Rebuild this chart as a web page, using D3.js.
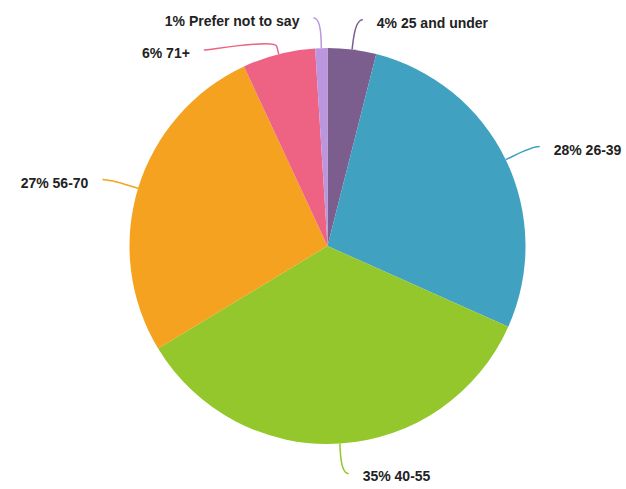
<!DOCTYPE html>
<html>
<head>
<meta charset="utf-8">
<script src="https://cdn.jsdelivr.net/npm/d3@7"></script>
<style>
  html, body { margin: 0; padding: 0; background: #fff; }
  svg { display: block; }
  .lbl { font-family: "Liberation Sans", Arial, Helvetica, sans-serif; font-weight: bold; font-size: 14px; fill: #222; }
</style>
</head>
<body>
<svg id="chart" width="626" height="489"></svg>
<script>
// Age groups of respondents, clockwise from 12 o'clock
const categories = ["25 and under", "26-39", "40-55", "56-70", "71+", "Prefer not to say"];
const percents = [4, 28, 35, 27, 6, 1];
const colors = ["#7b5e8e", "#41a1c1", "#93c72b", "#f4a21f", "#ee6283", "#bb95de"];

const W = 626, H = 489;
const cx = 327.5, cy = 246, R = 198;
const labelDist = 30;   // how far labels sit beyond the rim
const connPad = 7;      // connector overshoot past the label circle
const textGap = 14;     // gap between connector end and text

const svg = d3.select("#chart");
const g = svg.append("g").attr("transform", `translate(${cx},${cy})`);

const data = categories.map((c, i) => ({ cat: c, pct: percents[i], color: colors[i] }));
const pie = d3.pie().value(d => d.pct).sort(null);
const arcs = pie(data);
const arc = d3.arc().innerRadius(0).outerRadius(R);

g.selectAll("path.slice")
  .data(arcs)
  .join("path")
  .attr("class", "slice")
  .attr("d", arc)
  .attr("fill", d => d.data.color)
  .attr("stroke", "none");

// Label layout: natural position on a circle outside the pie, then spread
// overlapping labels apart on each side.
const Rl = R + labelDist;
const items = arcs.map(a => {
  const mid = (a.startAngle + a.endAngle) / 2;
  return {
    a, mid,
    right: mid < Math.PI,
    nx: Rl * Math.sin(mid),
    ny: -Rl * Math.cos(mid),
    tx: R * Math.sin(mid),
    ty: -R * Math.cos(mid)
  };
});

const minGap = 32;
[true, false].forEach(side => {
  const list = items.filter(d => d.right === side).sort((p, q) => p.ny - q.ny);
  let prev = -Infinity;
  list.forEach(d => {
    d.y = Math.max(d.ny, prev + minGap);
    prev = d.y;
  });
});

items.forEach(d => {
  const dy = d.y;
  const onCircle = Math.sqrt(Math.max(0, Rl * Rl - dy * dy));
  const off = Math.max(onCircle, Math.abs(d.nx)) + connPad;
  d.x = d.right ? off : -off;
  // break point just outside the rim, used to shape a soft connector
  const br = R + 8;
  d.bx = br * Math.sin(d.mid);
  d.by = -br * Math.cos(d.mid);
});

g.selectAll("path.conn")
  .data(items)
  .join("path")
  .attr("class", "conn")
  .attr("fill", "none")
  .attr("stroke", d => d.a.data.color)
  .attr("stroke-width", 1.5)
  .attr("d", d => {
    const c1x = d.x + (d.right ? -6 : 6);
    const c2x = 2 * d.bx - d.tx, c2y = 2 * d.by - d.ty;
    return `M${d.x},${d.y} C${c1x},${d.y} ${c2x},${c2y} ${d.bx},${d.by} L${d.tx},${d.ty}`;
  });

g.selectAll("text.lbl")
  .data(items)
  .join("text")
  .attr("class", "lbl")
  .attr("x", d => d.x + (d.right ? textGap : -textGap))
  .attr("y", d => d.y + 3)
  .attr("dy", "0.35em")
  .attr("text-anchor", d => d.right ? "start" : "end")
  .text(d => `${d.a.data.pct}% ${d.a.data.cat}`);
</script>
</body>
</html>
